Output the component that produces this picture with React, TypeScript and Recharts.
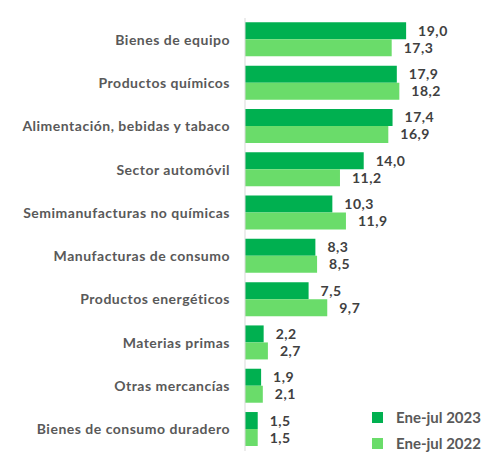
import { BarChart, Bar, XAxis, YAxis, LabelList } from 'recharts'

const categories = [
  'Bienes de equipo',
  'Productos químicos',
  'Alimentación, bebidas y tabaco',
  'Sector automóvil',
  'Semimanufacturas no químicas',
  'Manufacturas de consumo',
  'Productos energéticos',
  'Materias primas',
  'Otras mercancías',
  'Bienes de consumo duradero',
]
const values2023 = [19.0, 17.9, 17.4, 14.0, 10.3, 8.3, 7.5, 2.2, 1.9, 1.5]
const values2022 = [17.3, 18.2, 16.9, 11.2, 11.9, 8.5, 9.7, 2.7, 2.1, 1.5]

const series = [
  { key: 'y2023', name: 'Ene-jul 2023', color: '#00B050' },
  { key: 'y2022', name: 'Ene-jul 2022', color: '#6ADC6A' },
]

const data = categories.map((name, i) => ({
  name,
  y2023: values2023[i],
  y2022: values2022[i],
}))

const FONT = 'Lato, "Open Sans", sans-serif'
const fmt = (v: unknown) => Number(v).toFixed(1).replace('.', ',')

const labelStyle = {
  fill: '#404040',
  fontSize: 14,
  fontWeight: 700,
  fontFamily: FONT,
  letterSpacing: 0.5,
}

export default function App() {
  return (
    <div style={{ position: 'relative', width: 489, height: 444 }}>
      <BarChart
        width={489}
        height={444}
        data={data}
        layout="vertical"
        margin={{ top: 10, right: 40, bottom: 1, left: 0 }}
        barCategoryGap="10%"
        barGap={0}
      >
        <XAxis type="number" domain={[0, 25]} hide />
        <YAxis
          type="category"
          dataKey="name"
          width={237}
          tickLine={false}
          tickMargin={9}
          axisLine={{ stroke: '#D9D9D9' }}
          tick={{
            fill: '#595959',
            fontSize: 14,
            fontWeight: 700,
            fontFamily: FONT,
            letterSpacing: 0.5,
          }}
          interval={0}
        />
        {series.map((s) => (
          <Bar
            key={s.key}
            dataKey={s.key}
            name={s.name}
            fill={s.color}
            isAnimationActive={false}
          >
            <LabelList
              dataKey={s.key}
              position="right"
              offset={12}
              formatter={fmt}
              style={labelStyle}
            />
          </Bar>
        ))}
      </BarChart>
      <div
        style={{
          position: 'absolute',
          left: 364,
          top: 396,
          fontFamily: FONT,
        }}
      >
        {series.map((s) => (
          <div key={s.key} style={{ display: 'flex', alignItems: 'center', height: 26 }}>
            <span
              style={{
                display: 'inline-block',
                width: 11,
                height: 11,
                background: s.color,
                marginRight: 13,
              }}
            />
            <span
              style={{
                fontSize: 15,
                fontWeight: 700,
                color: '#595959',
              }}
            >
              {s.name}
            </span>
          </div>
        ))}
      </div>
    </div>
  )
}
